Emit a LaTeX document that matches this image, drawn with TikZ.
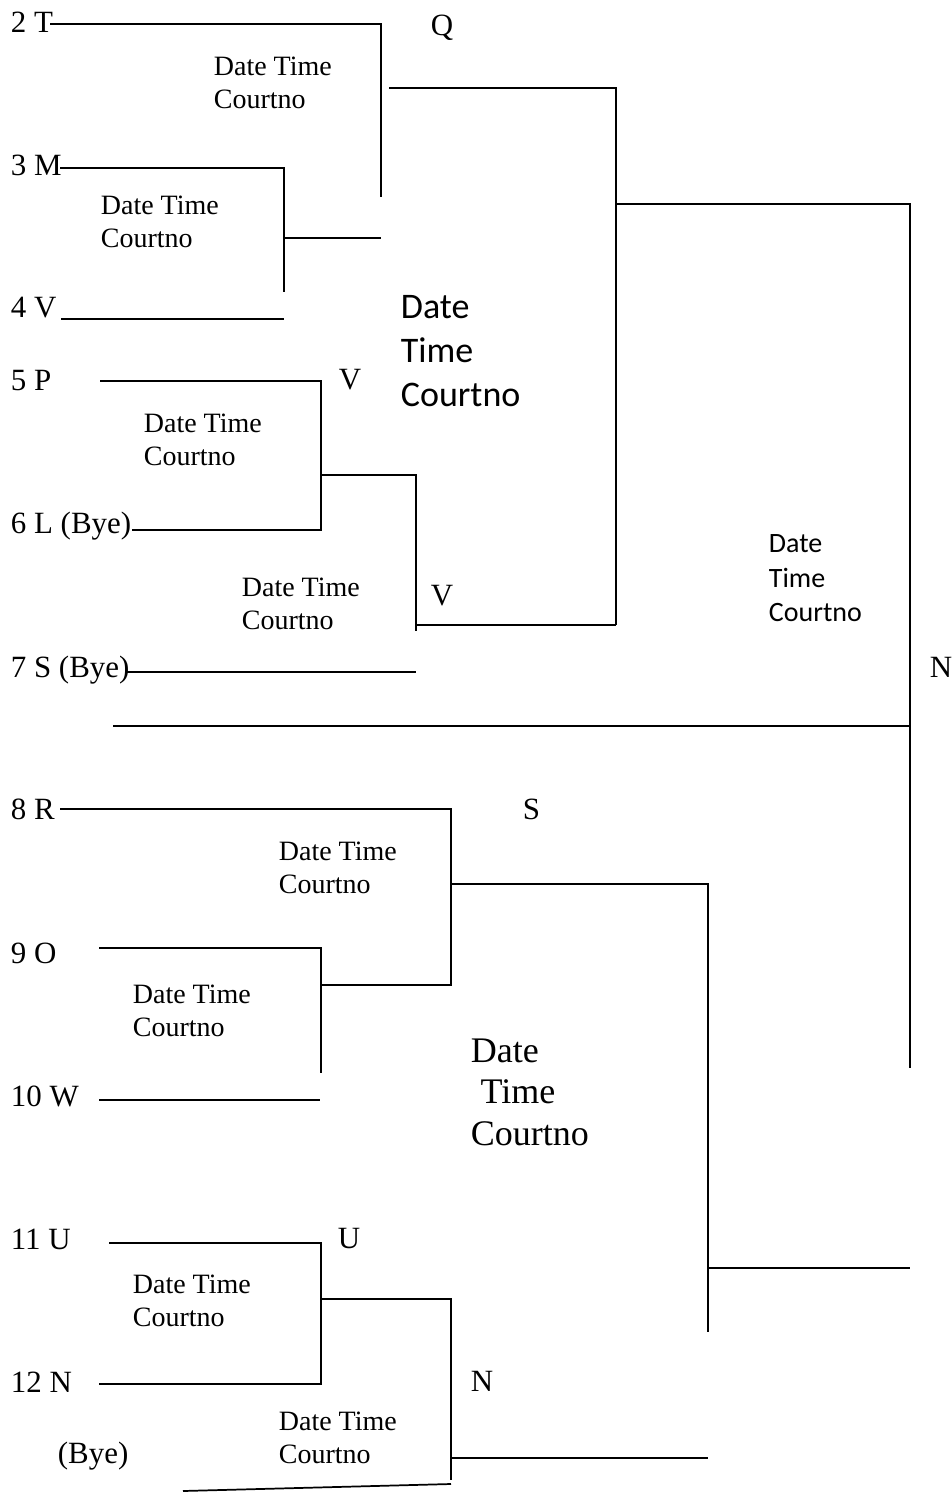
\documentclass[tikz,border=0pt]{standalone}
\usepackage{fontspec}
\setmainfont{Liberation Serif}
\newfontfamily\calib{Carlito}
\begin{document}
\begin{tikzpicture}[x=0.75pt,y=-0.75pt,line width=1.3pt,
  team/.style={anchor=base west,inner sep=0pt,font=\fontsize{23.2}{27}\selectfont},
  info/.style={anchor=north west,inner sep=0pt,align=left,font=\fontsize{21}{24.75}\selectfont},
  bigtimes/.style={anchor=north west,inner sep=0pt,align=left,font=\fontsize{27}{31.1}\selectfont},
  bigcal/.style={anchor=north west,inner sep=0pt,align=left,font=\calib\fontsize{27}{33}\selectfont},
  smallcal/.style={anchor=north west,inner sep=0pt,align=left,font=\calib\fontsize{21}{25.9}\selectfont}]
\useasboundingbox (0,0) rectangle (951,1492);
% team labels
\node[team] (t2) at (10,32) {2 T};
\node[team] (t3) at (10,175) {3 M};
\node[team] (t4) at (10,317) {4 V};
\node[team] (t5) at (10,390) {5 P};
\node[team] (t6) at (10,533) {6 L (Bye)};
\node[team] (t7) at (10,677) {7 S (Bye)};
\node[team] (t8) at (10,819) {8 R};
\node[team] (t9) at (10,963) {9 O};
\node[team] (t10) at (10,1106) {10 W};
\node[team] (t11) at (10,1249) {11 U};
\node[team] (t12) at (10,1392) {12 N};
\node[team] (bye) at (57,1463) {(Bye)};
% winners
\node[team] (wq) at (430,35) {Q};
\node[team] (wv1) at (338,389) {V};
\node[team] (wv2) at (430,605) {V};
\node[team] (ws) at (522,819) {S};
\node[team] (wu) at (337,1248) {U};
\node[team] (wn1) at (470,1391) {N};
\node[team] (wn2) at (929,677) {N};
% match info
\node[info] (i1) at (213,56) {Date Time\\Courtno};
\node[info] (i2) at (100,195) {Date Time\\Courtno};
\node[info] (i3) at (143,413) {Date Time\\Courtno};
\node[info] (i4) at (241,577) {Date Time\\Courtno};
\node[info] (i5) at (278,841) {Date Time\\Courtno};
\node[info] (i6) at (132,984) {Date Time\\Courtno};
\node[info] (i7) at (132,1274) {Date Time\\Courtno};
\node[info] (i8) at (278,1411) {Date Time\\Courtno};
\node[bigcal] (i9) at (400,295) {Date\\Time\\Courtno};
\node[smallcal] (i10) at (768,534) {Date\\Time\\Courtno};
\node[bigtimes] (i11) at (470,1038) {Date\\\hspace*{0.27em}Time\\Courtno};
% coordinates
\coordinate (c2T) at (50,24); \coordinate (q1top) at (381,24); \coordinate (q1bot) at (381,197);
\coordinate (c3M) at (60,168); \coordinate (m1top) at (284,168); \coordinate (m1bot) at (284,292);
\coordinate (m1mid) at (284,238); \coordinate (m1out) at (381,238);
\coordinate (c4V) at (61,319); \coordinate (c4Ve) at (284,319);
\coordinate (q2start) at (389,88); \coordinate (q2corner) at (616,88); \coordinate (q2bot) at (616,625);
\coordinate (c5P) at (100,381); \coordinate (p1top) at (321,381); \coordinate (p1bot) at (321,530); \coordinate (c6L) at (132,530);
\coordinate (p1mid) at (321,475); \coordinate (p2top) at (416,475); \coordinate (p2bot) at (416,631); \coordinate (p2mid) at (416,625);
\coordinate (c7S) at (127,672); \coordinate (c7Se) at (416,672);
\coordinate (lline) at (113,726); \coordinate (rline) at (910,726);
\coordinate (f1) at (616,204); \coordinate (f2) at (910,204); \coordinate (f3) at (910,1068);
\coordinate (c8R) at (60,809); \coordinate (s1top) at (451,809); \coordinate (s1bot) at (451,985); \coordinate (s1mid) at (451,884);
\coordinate (s2) at (708,884); \coordinate (s2bot) at (708,1332);
\coordinate (c9O) at (99,948); \coordinate (o1top) at (321,948); \coordinate (o1bot) at (321,1073); \coordinate (o1mid) at (321,985);
\coordinate (c10W) at (99,1100); \coordinate (c10We) at (320,1100);
\coordinate (s3) at (708,1268); \coordinate (s4) at (910,1268);
\coordinate (c11U) at (109,1243); \coordinate (u1top) at (321,1243); \coordinate (u1bot) at (321,1384); \coordinate (c12N) at (99,1384);
\coordinate (u1mid) at (321,1299); \coordinate (u2top) at (451,1299); \coordinate (u2bot) at (451,1480);
\coordinate (u2mid) at (451,1458); \coordinate (u3) at (708,1458);
\coordinate (sl1) at (183,1491); \coordinate (sl2) at (451,1484);
% connectors
\draw (c2T) -- (q1top) -- (q1bot);
\draw (c3M) -- (m1top) -- (m1bot);
\draw (m1mid) -- (m1out);
\draw (c4V) -- (c4Ve);
\draw (q2start) -- (q2corner) -- (q2bot);
\draw (c5P) -- (p1top) -- (p1bot) -- (c6L);
\draw (p1mid) -- (p2top) -- (p2bot);
\draw (p2mid) -- (q2bot);
\draw (c7S) -- (c7Se);
\draw (lline) -- (rline);
\draw (f1) -- (f2) -- (f3);
\draw (c8R) -- (s1top) -- (s1bot) -- (o1mid);
\draw (s1mid) -- (s2) -- (s2bot);
\draw (c9O) -- (o1top) -- (o1bot);
\draw (c10W) -- (c10We);
\draw (s3) -- (s4);
\draw (c11U) -- (u1top) -- (u1bot) -- (c12N);
\draw (u1mid) -- (u2top) -- (u2bot);
\draw (u2mid) -- (u3);
\draw (sl1) -- (sl2);
\end{tikzpicture}
\end{document}
